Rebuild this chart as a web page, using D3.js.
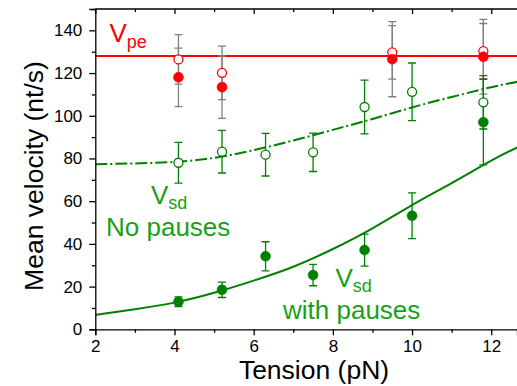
<!DOCTYPE html>
<html>
<head>
<meta charset="utf-8">
<script src="https://cdn.jsdelivr.net/npm/d3@7"></script>
<style>
    body { margin: 0; background: #fff; }
    svg { display: block; font-family: "Liberation Sans", Arial, sans-serif; }
</style>
</head>
<body>
<script>
"use strict";

// Tension values (pN) for the Vsd series
const tension = [4.1, 5.2, 6.3, 7.5, 8.8, 10.0, 11.8];
// Vsd without pauses (open green) and with pauses (filled green)
const sdNoPause = [78.0, 83.2, 81.8, 82.9, 104.1, 111.2, 106.3];
const sdNoPauseErr = [9.5, 10.0, 10.0, 9.0, 12.6, 13.5, 12.5];
const sdPause = [12.9, 18.5, 34.2, 25.4, 37.1, 53.2, 97.0];
const sdPauseErr = [2.3, 3.6, 6.8, 5.0, 7.5, 10.7, 20.0];

// Vpe points (red), measured at fewer tensions
const peTension = [4.1, 5.2, 9.5, 11.8];
const peOpen = [126.4, 120.1, 129.7, 130.3];
const peOpenErr = [11.6, 12.5, 12.5, 12.9];
const peFilled = [118.0, 113.4, 126.5, 127.6];
const peFilledErr = [13.7, 14.6, 17.6, 17.5];
const vpe = 128;

// Fitted curves
const fitX = [2, 3, 4, 5, 6, 7, 8, 9, 10, 11, 12, 12.66];
const fitNoPause = [77.3, 77.7, 78.4, 80.3, 83.9, 88.4, 93.4, 98.5, 103.9, 108.8, 113.4, 115.9];
const fitPause = [6.7, 9.4, 12.5, 17.1, 22.8, 29.3, 37.6, 47.3, 58.2, 68.5, 79.0, 85.2];

// Tick values
const xTicks = [2, 4, 6, 8, 10, 12];
const xMinor = [3, 5, 7, 9, 11];
const yTicks = [0, 20, 40, 60, 80, 100, 120, 140];
const yMinor = [10, 30, 50, 70, 90, 110, 130, 150];

(function(){
    const measurements = { width: 517, height: 386, left: 95.3, top: 9, bottom: 329.3 };
    const green = "#008000";
    const labelGreen = "#17a117";
    const red = "#ff0000";
    const grey = "#808080";

    const svg = d3.select("body").append("svg")
        .attr("width", measurements.width)
        .attr("height", measurements.height);

    const scaleX = d3.scaleLinear()
        .domain([2, 12.65])
        .range([measurements.left, measurements.width]);
    const scaleY = d3.scaleLinear()
        .domain([0, 150])
        .range([measurements.bottom, measurements.top]);

    svg.append("clipPath").attr("id", "plot")
        .append("rect")
        .attr("x", measurements.left).attr("y", measurements.top)
        .attr("width", measurements.width - measurements.left)
        .attr("height", measurements.bottom - measurements.top);

    const plot = svg.append("g").attr("clip-path", "url(#plot)");

    // Vpe horizontal line
    plot.append("line")
        .attr("x1", scaleX(2)).attr("x2", scaleX(12.65))
        .attr("y1", scaleY(vpe)).attr("y2", scaleY(vpe))
        .attr("stroke", red).attr("stroke-width", 2);

    // Fitted curves
    const fitLine = d3.line()
        .x((d, i) => scaleX(fitX[i]))
        .y(d => scaleY(d))
        .curve(d3.curveNatural);
    plot.append("path")
        .attr("d", fitLine(fitNoPause))
        .attr("fill", "none").attr("stroke", green)
        .attr("stroke-width", 2).attr("stroke-dasharray", "12,3,2,3");
    plot.append("path")
        .attr("d", fitLine(fitPause))
        .attr("fill", "none").attr("stroke", green)
        .attr("stroke-width", 2);

    // Error bars
    function errorBars(xs, ys, errs, color) {
        const g = plot.append("g").attr("stroke", color).attr("stroke-width", 1.3);
        xs.forEach((x, i) => {
            const cx = scaleX(x);
            const top = scaleY(ys[i] + errs[i]);
            const bot = scaleY(ys[i] - errs[i]);
            g.append("line").attr("x1", cx).attr("x2", cx).attr("y1", top).attr("y2", bot);
            g.append("line").attr("x1", cx - 4).attr("x2", cx + 4).attr("y1", top).attr("y2", top);
            g.append("line").attr("x1", cx - 4).attr("x2", cx + 4).attr("y1", bot).attr("y2", bot);
        });
    }
    errorBars(peTension, peOpen, peOpenErr, grey);
    errorBars(peTension, peFilled, peFilledErr, grey);
    errorBars(tension, sdNoPause, sdNoPauseErr, green);
    errorBars(tension, sdPause, sdPauseErr, green);

    // Markers
    function markers(xs, ys, color, filled) {
        plot.append("g").selectAll("circle")
            .data(ys)
            .enter()
            .append("circle")
                .attr("cx", (d, i) => scaleX(xs[i]))
                .attr("cy", d => scaleY(d))
                .attr("r", filled ? 5 : 4.5)
                .attr("fill", filled ? color : "#fff")
                .attr("stroke", color)
                .attr("stroke-width", filled ? 0.5 : 1.3);
    }
    markers(peTension, peOpen, red, false);
    markers(peTension, peFilled, red, true);
    markers(tension, sdNoPause, green, false);
    markers(tension, sdPause, green, true);

    // Axes
    const xAxis = d3.axisBottom(scaleX).tickValues(xTicks).tickSize(6).tickFormat(d3.format("d"));
    const xAxisMinor = d3.axisBottom(scaleX).tickValues(xMinor).tickSize(3.5).tickFormat("");
    const yAxis = d3.axisLeft(scaleY).tickValues(yTicks).tickSize(6).tickFormat(d3.format("d"));
    const yAxisMinor = d3.axisLeft(scaleY).tickValues(yMinor).tickSize(3.5).tickFormat("");
    const topAxis = d3.axisBottom(scaleX).tickValues(xTicks).tickSize(5).tickFormat("");
    const topAxisMinor = d3.axisBottom(scaleX).tickValues(xMinor).tickSize(3).tickFormat("");

    function styleAxis(g) {
        g.select(".domain").attr("stroke", "#000").attr("stroke-width", 1.3);
        g.selectAll(".tick line").attr("stroke", "#000").attr("stroke-width", 1.3);
        g.selectAll(".tick text").attr("fill", "#000").attr("font-size", 17)
            .attr("font-family", "Liberation Sans, Arial, sans-serif");
    }

    svg.append("g")
        .attr("transform", `translate(0,${measurements.bottom})`)
        .call(xAxis).call(styleAxis)
        .call(g => g.selectAll(".tick text").attr("dy", "0.95em").attr("y", 7));
    svg.append("g")
        .attr("transform", `translate(0,${measurements.bottom})`)
        .call(xAxisMinor).call(styleAxis)
        .call(g => g.select(".domain").remove());
    svg.append("g")
        .attr("transform", `translate(0,${measurements.top})`)
        .call(topAxis).call(styleAxis)
        .call(g => g.select(".domain").attr("d", `M${measurements.left},0H${measurements.width}`));
    svg.append("g")
        .attr("transform", `translate(0,${measurements.top})`)
        .call(topAxisMinor).call(styleAxis)
        .call(g => g.select(".domain").remove());
    svg.append("g")
        .attr("transform", `translate(${measurements.left},0)`)
        .call(yAxis).call(styleAxis)
        .call(g => g.selectAll(".tick text").attr("x", -13));
    svg.append("g")
        .attr("transform", `translate(${measurements.left},0)`)
        .call(yAxisMinor).call(styleAxis)
        .call(g => g.select(".domain").remove());

    // Axis titles
    svg.append("text")
        .attr("x", 314).attr("y", 379)
        .attr("text-anchor", "middle")
        .attr("font-size", 26.5)
        .text("Tension (pN)");
    svg.append("text")
        .attr("transform", "translate(43,176) rotate(-90)")
        .attr("text-anchor", "middle")
        .attr("font-size", 26.5)
        .text("Mean velocity (nt/s)");

    // Series labels
    function label(x, y, main, sub, color) {
        const t = svg.append("text").attr("x", x).attr("y", y)
            .attr("fill", color).attr("font-size", 26);
        t.append("tspan").text(main);
        if (sub) {
            t.append("tspan").attr("font-size", 18).attr("dy", 5.5).attr("dx", 0).text(sub);
        }
    }
    label(109.5, 42, "V", "pe", red);
    label(151, 203.5, "V", "sd", labelGreen);
    label(106, 235.5, "No pauses", null, labelGreen);
    label(335.5, 286.5, "V", "sd", labelGreen);
    label(283, 319, "with pauses", null, labelGreen);
})();
</script>
</body>
</html>
